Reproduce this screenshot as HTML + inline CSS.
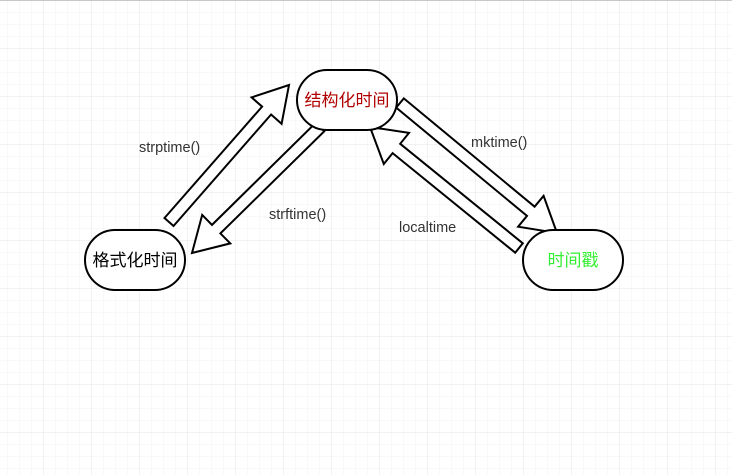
<!DOCTYPE html>
<html><head><meta charset="utf-8">
<style>
html,body{margin:0;padding:0;background:#fff;}
svg{display:block;}
text{font-family:"Liberation Sans","Noto Sans CJK SC",sans-serif;}
</style></head>
<body>
<svg id="s" width="732" height="475" xmlns="http://www.w3.org/2000/svg">
<defs>
<pattern id="minor" x="7" y="0" width="12" height="12" patternUnits="userSpaceOnUse">
<path d="M0 0H12M0 0V12" stroke="#f3f3f3" stroke-width="1" fill="none"/>
</pattern>
<pattern id="major" x="43" y="0" width="48" height="48" patternUnits="userSpaceOnUse">
<path d="M0 0H48M0 0V48" stroke="#e4e4e4" stroke-width="1" fill="none"/>
</pattern>
</defs>
<rect width="732" height="475" fill="#fff"/>
<rect width="732" height="475" fill="url(#minor)"/>
<rect width="732" height="475" fill="url(#major)"/>
<line x1="0" y1="0.5" x2="732" y2="0.5" stroke="#c8c8c8"/>
<g id="arrows" fill="#fff" stroke="#000" stroke-width="2" stroke-linejoin="miter"></g>
<rect x="297" y="70" width="100" height="60" rx="30" fill="#fff" stroke="#000" stroke-width="2"/>
<rect x="85" y="230" width="100" height="60" rx="30" fill="#fff" stroke="#000" stroke-width="2"/>
<rect x="523" y="230" width="100" height="60" rx="30" fill="#fff" stroke="#000" stroke-width="2"/>
<text x="347" y="106" font-size="17" fill="#b00000" text-anchor="middle">结构化时间</text>
<text x="135" y="266" font-size="17" fill="#000" text-anchor="middle">格式化时间</text>
<text x="573" y="266" font-size="17" fill="#33ee33" text-anchor="middle">时间戳</text>
<g font-size="14.5" fill="#333">
<text x="139" y="152">strptime()</text>
<text x="269" y="219">strftime()</text>
<text x="471" y="147">mktime()</text>
<text x="399" y="232">localtime</text>
</g>
</svg>
<script>
(function(){
var g=document.getElementById('arrows');
function arr(tx,ty,px,py){
var dx=px-tx,dy=py-ty,l=Math.hypot(dx,dy);dx/=l;dy/=l;
var nx=-dy,ny=dx,w=6,h=20,L=34;
var kx=px-dx*L,ky=py-dy*L;
var p=[[tx+nx*w,ty+ny*w],[kx+nx*w,ky+ny*w],[kx+nx*h,ky+ny*h],[px,py],[kx-nx*h,ky-ny*h],[kx-nx*w,ky-ny*w],[tx-nx*w,ty-ny*w]];
var e=document.createElementNS('http://www.w3.org/2000/svg','polygon');
e.setAttribute('points',p.map(function(q){return q[0].toFixed(1)+','+q[1].toFixed(1)}).join(' '));
g.appendChild(e);
}
arr(169,222,289,85);
arr(320,127,192,253);
arr(400,103,557,233);
arr(519,248,370,127);
})();
</script>
</body></html>
